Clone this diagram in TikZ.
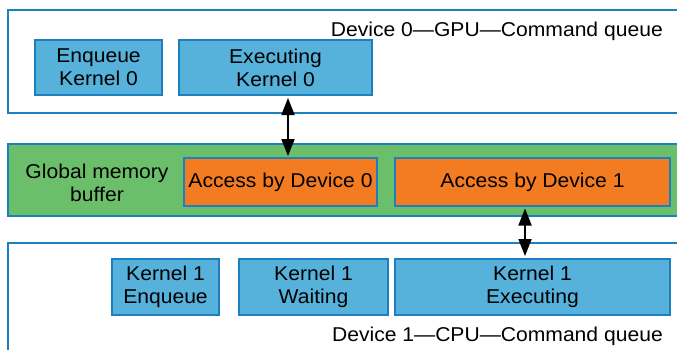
\documentclass[tikz,border=0pt]{standalone}
\usepackage{fontspec}
\setmainfont[FakeStretch=1.055]{Liberation Sans}
\usetikzlibrary{arrows.meta}
\definecolor{qblue}{HTML}{1B7FC1}
\definecolor{kfill}{HTML}{56B1DB}
\definecolor{gfill}{HTML}{6BBF6B}
\definecolor{ofill}{HTML}{F37B22}
\tikzset{
  panel/.style={draw=qblue, line width=2.2pt},
  txt/.style={font=\fontsize{20}{23}\selectfont},
  kbox/.style={txt, draw=qblue, line width=1.6pt, fill=kfill, inner sep=0pt,
    outer sep=0pt, align=center},
  abox/.style={kbox, fill=ofill},
  lbl/.style={txt, inner sep=0pt, align=center},
  link/.style={line width=1.8pt,
    {Triangle[length=17pt,width=13pt]}-{Triangle[length=17pt,width=13pt]}}
}
\begin{document}
\begin{tikzpicture}[x=1pt,y=-1pt]
\useasboundingbox (0,0) rectangle (677,349);
\clip (0,0) rectangle (677,349);

% Device 0 command queue
\draw[panel, fill=white] (8,10) rectangle (690,113);
\node[lbl, anchor=base east] (q0) at (663,36) {Device 0—GPU—Command queue};
\node[kbox, minimum width=127pt, minimum height=55pt] (enq0) at (98.5,67.5) {Enqueue\\Kernel 0};
\node[kbox, minimum width=193pt, minimum height=55pt] (exe0) at (275.5,67.5) {Executing\\Kernel 0};

% Global memory buffer
\draw[panel, fill=gfill] (8,144) rectangle (690,216);
\node[lbl] (gmb) at (97,183) {Global memory\\buffer};
\node[abox, minimum width=193pt, minimum height=48pt] (acc0) at (280.5,182) {Access by Device 0};
\node[abox, minimum width=275pt, minimum height=48pt] (acc1) at (532.5,182) {Access by Device 1};

% Device 1 command queue
\draw[panel, fill=white] (8,243) rectangle (690,360);
\node[kbox, minimum width=107pt, minimum height=56pt] (enq1) at (165.5,287) {Kernel 1\\Enqueue};
\node[kbox, minimum width=149pt, minimum height=56pt] (wai1) at (313.5,287) {Kernel 1\\Waiting};
\node[kbox, minimum width=275pt, minimum height=56pt] (exe1) at (532.5,287) {Kernel 1\\Executing};
\node[lbl, anchor=base east] (q1) at (663,341) {Device 1—CPU—Command queue};

% Accesses between queues and buffer
\coordinate (ax0) at (288,0);
\coordinate (ax1) at (525,0);
\draw[link, shorten <=3pt, shorten >=2pt] (exe0.south -| ax0) -- (acc0.north -| ax0);
\draw[link, shorten <=2.5pt, shorten >=3pt] (acc1.south -| ax1) -- (exe1.north -| ax1);
\end{tikzpicture}
\end{document}
